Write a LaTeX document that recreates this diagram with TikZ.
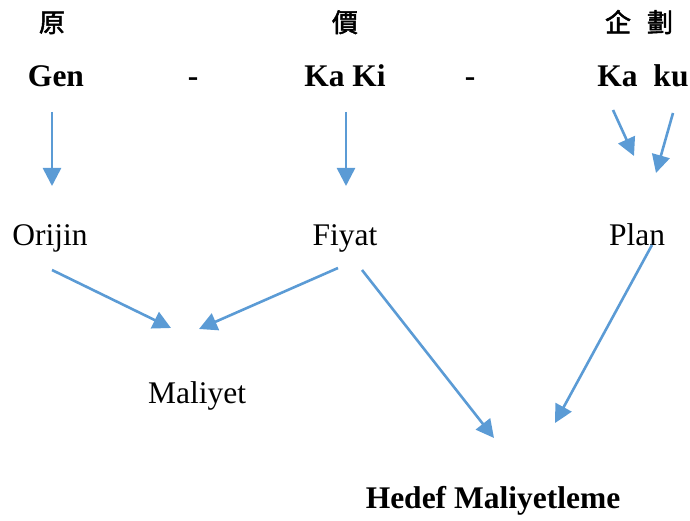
\documentclass[tikz,border=0pt]{standalone}
\usepackage{fontspec}
\setmainfont{Liberation Serif}
\newfontfamily\cjk[AutoFakeBold=2]{Noto Sans CJK TC}
\usetikzlibrary{arrows.meta}
\definecolor{arrowblue}{HTML}{5B9BD5}
\tikzset{
  conn/.style={draw=arrowblue, line width=2.6pt, -{Triangle[length=18pt,width=18pt]}},
  hanzi/.style={font=\cjk\bfseries\fontsize{26}{30}\selectfont, inner sep=0pt, anchor=base},
  roma/.style={font=\bfseries\fontsize{31.5}{36}\selectfont, inner sep=0pt, anchor=base},
  word/.style={font=\fontsize{31.5}{36}\selectfont, inner sep=0pt, anchor=base},
}
\begin{document}
\begin{tikzpicture}[x=1pt,y=-1pt]
\useasboundingbox (0,0) rectangle (690,521);
% kanji
\node[hanzi] (k1) at (52,32) {原};
\node[hanzi] (k2) at (345,32) {價};
\node[hanzi] (k3) at (618,32) {企};
\node[hanzi] (k4) at (660,32) {劃};
% romaji
\node[roma] (r1) at (56,87) {Gen};
\node[roma] (d1) at (193,87) {-};
\node[roma] (r2) at (345,87) {Ka Ki};
\node[roma] (d2) at (470,87) {-};
\node[roma] (r3) at (643,87) {Ka\ \ ku};
% words
\node[word] (w1) at (50,246) {Orijin};
\node[word] (w2) at (345,246) {Fiyat};
\node[word] (w3) at (637,246) {Plan};
\node[word] (w4) at (197,403) {Maliyet};
\node[roma] (w5) at (493,508) {Hedef Maliyetleme};
% arrow endpoints
\coordinate (a1s) at (52,112);  \coordinate (a1e) at (52,186);
\coordinate (a2s) at (346,112); \coordinate (a2e) at (346,186);
\coordinate (a3s) at (613,110); \coordinate (a3e) at (634,156);
\coordinate (a4s) at (673,113); \coordinate (a4e) at (656,173);
\coordinate (a5s) at (52,270);  \coordinate (a5e) at (171,328);
\coordinate (a6s) at (338,268); \coordinate (a6e) at (199,329);
\coordinate (a7s) at (362,270); \coordinate (a7e) at (494,438);
\coordinate (a8s) at (652,245); \coordinate (a8e) at (555,423);
\draw[conn] (a1s) -- (a1e);
\draw[conn] (a2s) -- (a2e);
\draw[conn] (a3s) -- (a3e);
\draw[conn] (a4s) -- (a4e);
\draw[conn] (a5s) -- (a5e);
\draw[conn] (a6s) -- (a6e);
\draw[conn] (a7s) -- (a7e);
\draw[conn] (a8s) -- (a8e);
\end{tikzpicture}
\end{document}
